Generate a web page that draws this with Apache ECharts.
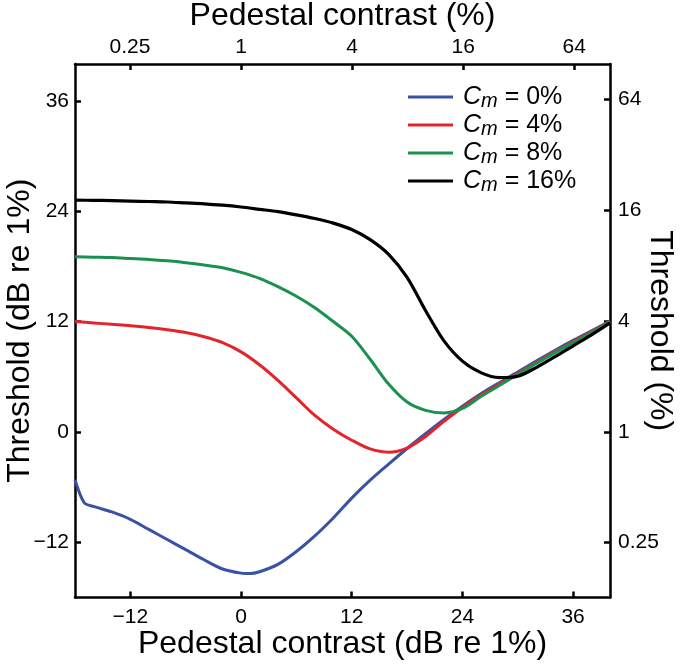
<!DOCTYPE html>
<html>
<head>
<meta charset="utf-8">
<script src="https://cdn.jsdelivr.net/npm/echarts@6/dist/echarts.min.js"></script>
<style>html,body{margin:0;padding:0;background:#fff;}#c{width:680px;height:668px;}</style>
</head>
<body>
<div id="c"></div>
<script>
// Axis ticks (dB re 1%)
const dbTicks = [-12, 0, 12, 24, 36];
// Percent ticks for top/right axes
const pctTicks = [0.25, 1, 4, 16, 64];
const pctTickLabels = ['0.25', '1', '4', '16', '64'];

// Series names
const seriesNames = ['Cm = 0%', 'Cm = 4%', 'Cm = 8%', 'Cm = 16%'];

// Pedestal contrast sample points (dB re 1%)
const xCommon = [-18, -16, -14, -12, -10, -8, -6, -4, -2, 0, 2, 4, 6, 8, 10, 12, 14, 16, 18, 20, 22, 24, 26, 28, 30, 32, 34, 36, 38, 40];

// Cm = 0% (has a kink near the left edge)
const blueX = [-18, -17, -16, -14, -12, -10, -8, -6, -4, -2, 0, 1, 2, 4, 6, 8, 10, 12, 14, 16, 18, 20, 22, 24, 26, 28, 30, 32, 34, 36, 38, 40];
const blueY = [-5.2, -7.7, -8.1, -8.7, -9.5, -10.6, -11.7, -12.8, -13.9, -14.9, -15.35, -15.4, -15.2, -14.4, -13.0, -11.3, -9.35, -7.2, -5.25, -3.5, -1.8, -0.2, 1.35, 2.8, 4.15, 5.35, 6.5, 7.7, 8.85, 9.95, 11.0, 12.05];

// Cm = 4%
const redY = [12.0, 11.85, 11.7, 11.55, 11.35, 11.1, 10.8, 10.35, 9.7, 8.7, 7.3, 5.6, 3.7, 1.8, 0.3, -0.9, -1.85, -2.2, -1.75, -0.5, 1.15, 2.65, 4.0, 5.2, 6.35, 7.55, 8.7, 9.8, 10.9, 12.0];

// Cm = 8%
const greenY = [19.05, 19.0, 18.95, 18.85, 18.75, 18.6, 18.4, 18.15, 17.85, 17.35, 16.7, 15.8, 14.75, 13.5, 12.0, 10.4, 7.9, 5.2, 3.25, 2.35, 2.07, 2.55, 3.85, 5.05, 6.25, 7.45, 8.6, 9.7, 10.8, 11.95];

// Cm = 16%
const blackY = [25.2, 25.18, 25.15, 25.1, 25.05, 25.0, 24.9, 24.8, 24.65, 24.45, 24.2, 23.95, 23.6, 23.2, 22.7, 22.0, 20.9, 19.3, 16.8, 13.2, 9.9, 7.7, 6.45, 5.9, 6.05, 7.0, 8.15, 9.35, 10.55, 11.85];

const colors = ['#3a52a3', '#e3242b', '#1b9150', '#000000'];
const FONT = "'Liberation Sans', Arial, Helvetica, sans-serif";

const pctPos = pctTicks.map(p => 20 * Math.log10(p));
function pctLabel(v) {
  let best = 0, bd = Infinity;
  pctPos.forEach((p, i) => { const d = Math.abs(p - v); if (d < bd) { bd = d; best = i; } });
  return pctTickLabels[best];
}
function dbLabel(v) { return v < 0 ? '\u2212' + Math.abs(v) : String(v); }

const axisLine = { show: true, onZero: false, lineStyle: { color: '#000', width: 2.5 } };
const axisTick = (vals) => ({ show: true, inside: true, length: 6, customValues: vals, lineStyle: { color: '#000', width: 2.5 } });
const labelStyle = { color: '#000', fontSize: 21, fontFamily: FONT };
const nameStyle = { color: '#000', fontSize: 32, fontFamily: FONT };

const pairs = (xs, ys) => xs.map((x, i) => [x, ys[i]]);
const allData = [pairs(blueX, blueY), pairs(xCommon, redY), pairs(xCommon, greenY), pairs(xCommon, blackY)];

const chart = echarts.init(document.getElementById('c'), null, { renderer: 'canvas' });
chart.setOption({
  backgroundColor: '#fff',
  animation: false,
  grid: { left: 75, right: 70, top: 64, bottom: 70.5, containLabel: false, outerBoundsMode: 'none' },
  legend: {
    show: true,
    orient: 'vertical',
    left: 408,
    top: 83,
    padding: 0,
    itemGap: 0,
    itemWidth: 45,
    itemHeight: 3,
    icon: 'rect',
    selectedMode: false,
    data: seriesNames,
    formatter: name => name.replace('Cm', '{i|C}{s|m}'),
    textStyle: {
      color: '#000', fontSize: 25, fontFamily: FONT, lineHeight: 28,
      rich: {
        i: { fontStyle: 'italic', fontSize: 25, fontFamily: FONT, color: '#000', lineHeight: 28, padding: [0, 0, 0, 5] },
        s: { fontStyle: 'italic', fontSize: 20, fontFamily: FONT, color: '#000', lineHeight: 19, verticalAlign: 'bottom' }
      }
    }
  },
  xAxis: [
    {
      type: 'value', position: 'bottom', min: -18, max: 40,
      axisLine, axisTick: axisTick(dbTicks), splitLine: { show: false },
      axisLabel: Object.assign({ customValues: dbTicks, margin: 9, formatter: dbLabel }, labelStyle),
      name: 'Pedestal contrast (dB re 1%)', nameLocation: 'middle', nameGap: 31, nameMoveOverlap: false, nameTextStyle: nameStyle
    },
    {
      type: 'value', position: 'top', min: -18, max: 40,
      axisLine, axisTick: axisTick(pctPos), splitLine: { show: false },
      axisLabel: Object.assign({ customValues: pctPos, margin: 6, formatter: pctLabel }, labelStyle),
      name: 'Pedestal contrast (%)', nameLocation: 'middle', nameGap: 32, nameMoveOverlap: false, nameTextStyle: nameStyle
    }
  ],
  yAxis: [
    {
      type: 'value', position: 'left', min: -18, max: 40,
      axisLine, axisTick: axisTick(dbTicks), splitLine: { show: false },
      axisLabel: Object.assign({ customValues: dbTicks, margin: 6, formatter: dbLabel }, labelStyle),
      name: 'Threshold (dB re 1%)', nameLocation: 'middle', nameGap: 39, nameMoveOverlap: false, nameTextStyle: nameStyle
    },
    {
      type: 'value', position: 'right', min: -18, max: 40,
      axisLine, axisTick: axisTick(pctPos), splitLine: { show: false },
      axisLabel: Object.assign({ customValues: pctPos, margin: 8, formatter: pctLabel }, labelStyle),
      name: 'Threshold (%)', nameLocation: 'middle', nameGap: 34, nameRotate: -90, nameMoveOverlap: false, nameTextStyle: nameStyle
    }
  ],
  series: seriesNames.map((n, k) => ({
    name: n,
    type: 'line',
    xAxisIndex: 0,
    yAxisIndex: 0,
    data: allData[k],
    showSymbol: false,
    symbol: 'none',
    smooth: 0.3,
    clip: true,
    color: colors[k],
    lineStyle: { color: colors[k], width: k === 3 ? 3.2 : 3 },
    itemStyle: { color: colors[k] },
    z: 2 + k
  }))
});
</script>
</body>
</html>
